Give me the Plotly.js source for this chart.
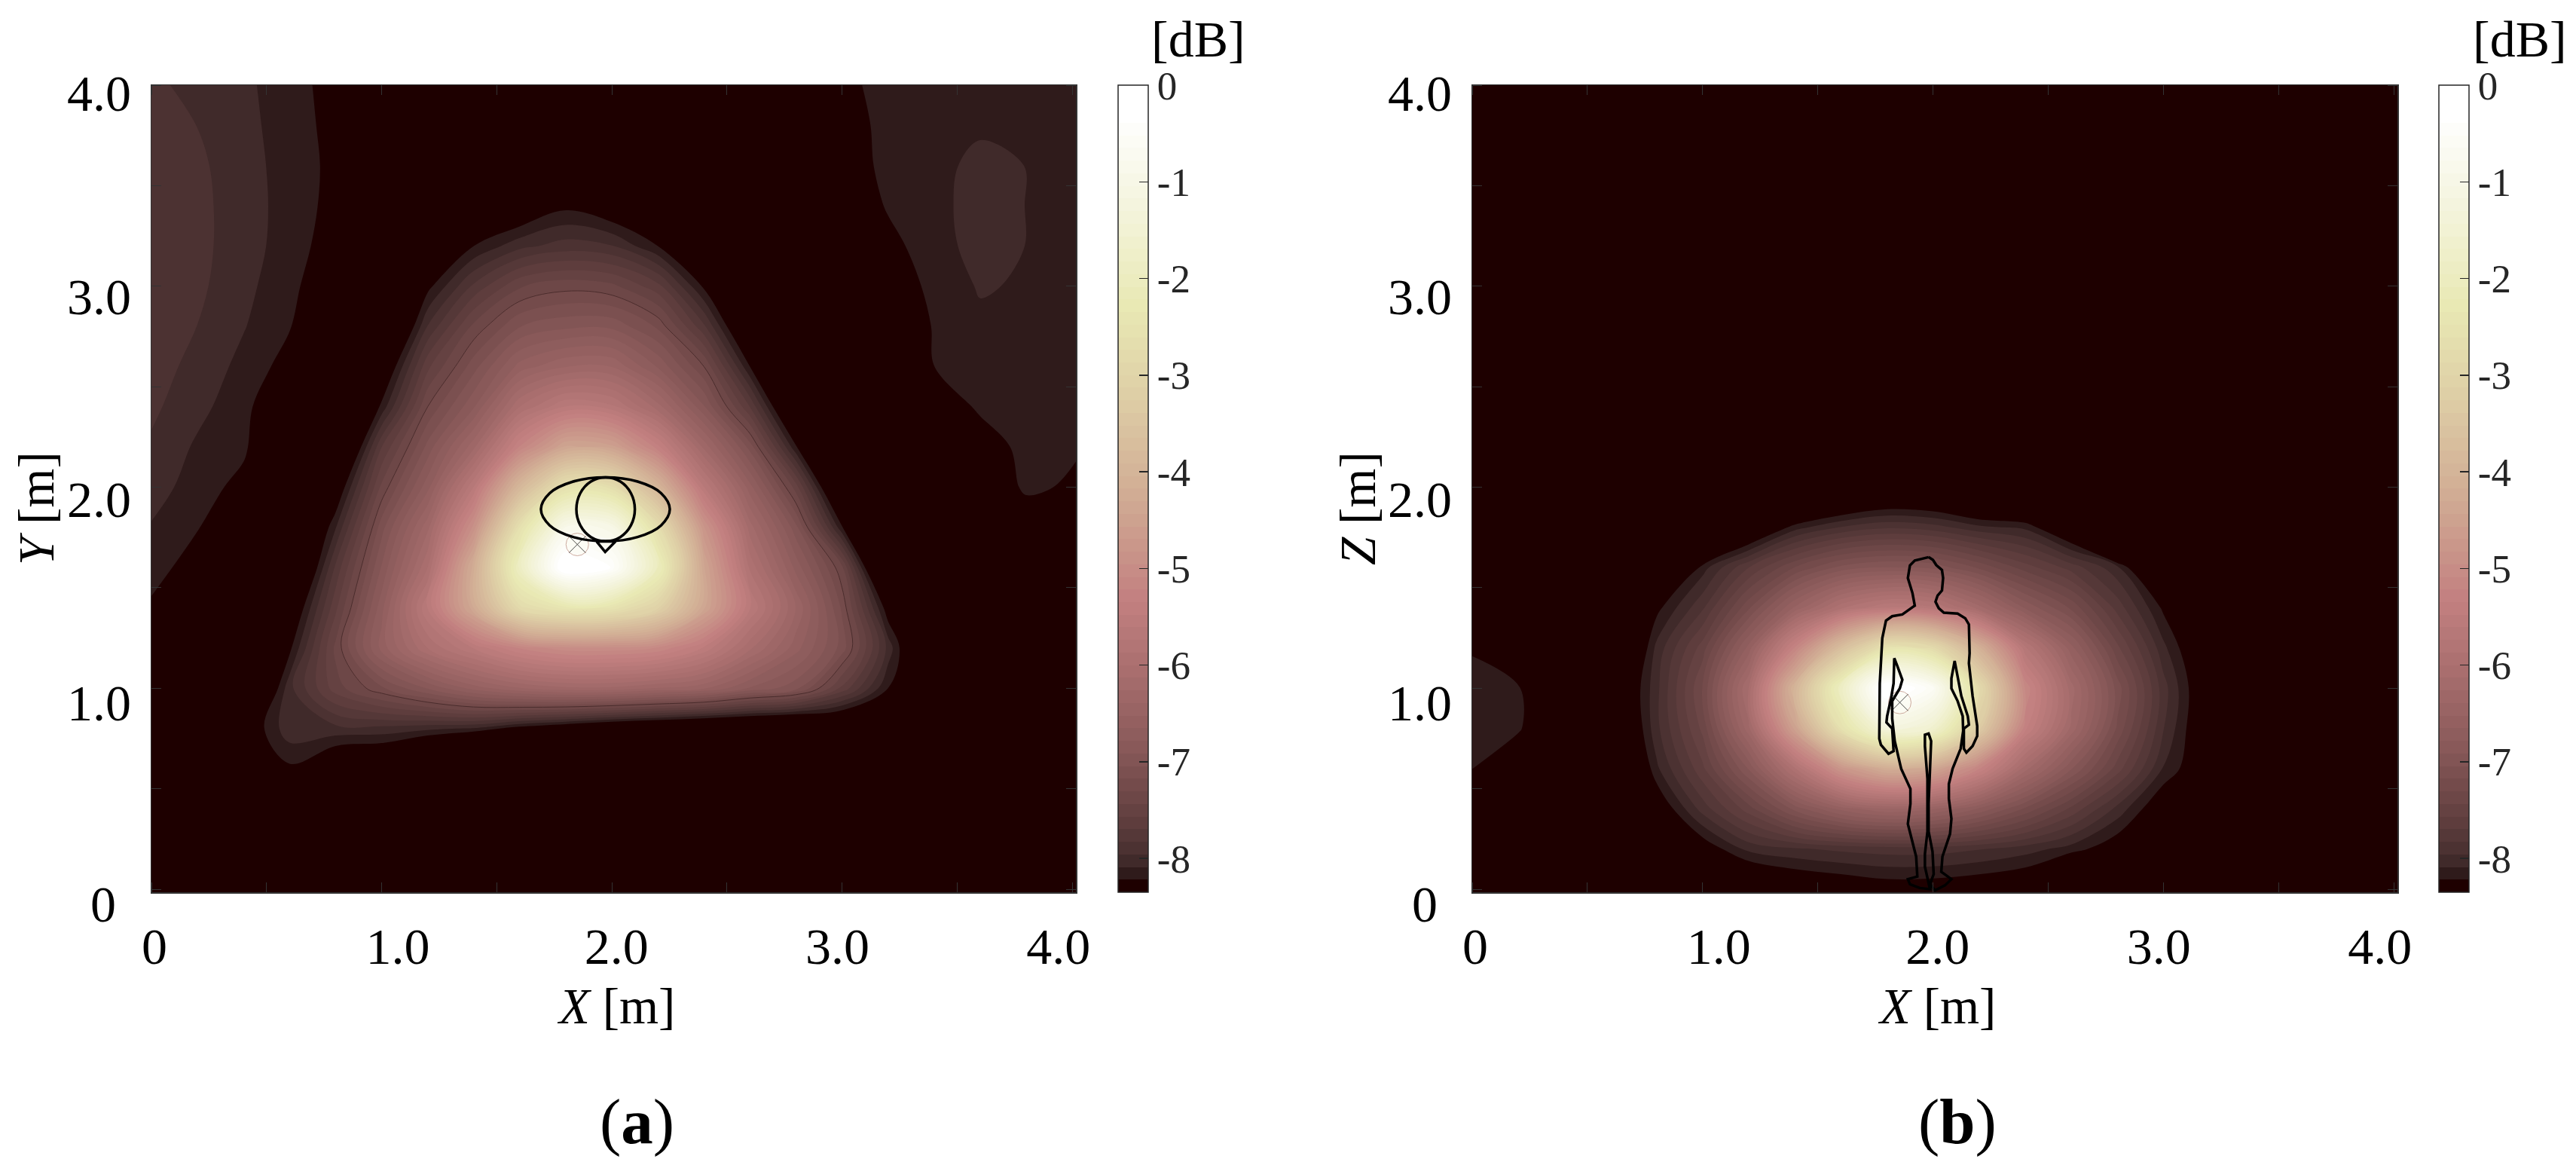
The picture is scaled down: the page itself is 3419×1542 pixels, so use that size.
<!DOCTYPE html>
<html>
<head>
<meta charset="utf-8">
<script src="https://cdn.plot.ly/plotly-3.0.1.min.js"></script>
<style>body{margin:0;background:#fff}</style>
</head>
<body>
<div id="chart" style="width:3419px;height:1542px"></div>
<script>
// grid of the two dB maps, metres
var gridX = [0,0.2,0.4,0.6,0.8,1.0,1.2,1.4,1.6,1.8,2.0,2.2,2.4,2.6,2.8,3.0,3.2,3.4,3.6,3.8,4.02];
var gridY = [-0.02,0.2,0.4,0.6,0.8,1.0,1.2,1.4,1.6,1.8,2.0,2.2,2.4,2.6,2.8,3.0,3.2,3.4,3.6,3.8,4.0];

// (a) X-Y plane, rows from the bottom up
var zTop = [
[-12,-12,-12,-12,-12,-12,-12,-12,-12,-12,-12,-12,-12,-12,-12,-12,-12,-12,-12,-12,-12],
[-12,-12,-12,-12,-12,-12,-12,-12,-12,-12,-12,-12,-12,-12,-12,-12,-12,-12,-12,-12,-12],
[-11,-11,-11,-10,-11,-11,-11,-11,-11,-11,-11,-11,-11,-11,-11,-11,-11,-11,-11,-11,-11],
[-11,-11,-9,-8.25,-8.5,-8.6,-9.0,-9.6,-10,-10.5,-10.5,-10.5,-10.5,-10.5,-10.5,-11,-11,-11,-11,-11,-11],
[-10.5,-10.5,-8.4,-8.0,-8.0,-8.0,-8.05,-8.1,-8.3,-8.45,-8.6,-8.7,-8.8,-8.85,-8.88,-8.73,-9,-11,-11,-11,-11],
[-9.0,-9.5,-8.88,-8.0,-7.5,-7.2,-6.9,-6.6,-6.4,-6.3,-6.3,-6.4,-6.5,-6.8,-7.0,-7.6,-8.22,-9.5,-11,-11,-11],
[-8.6,-9.2,-9,-8.26,-7.4,-6.6,-6,-5.6,-5.2,-5,-5,-5.1,-5.5,-6.1,-6.6,-7.1,-8,-8.88,-11,-11,-11],
[-8.24,-8.8,-9,-8.49,-7.6,-6.7,-5.6,-4.3,-2.8,-2.4,-2.5,-3.1,-4.4,-5.6,-6.4,-7.2,-8.33,-10,-11,-11,-11],
[-8.17,-8.28,-9,-8.85,-7.8,-6.9,-6,-4.2,-1.9,-0.05,-0.4,-2,-4.4,-5.9,-6.7,-7.4,-9.04,-10,-10,-10,-10],
[-8.10,-8.21,-8.5,-8.9,-8.1,-7.1,-6.3,-4.9,-2.6,-0.9,-1.0,-2.7,-4.8,-6.2,-7,-8.2,-9.5,-10,-9,-8.5,-8.8],
[-8.03,-8.15,-8.27,-8.7,-8.42,-7.4,-6.7,-5.6,-3.9,-2.6,-2.7,-4,-5.6,-6.6,-7.5,-8.81,-9.5,-9,-8.6,-8.15,-8.28],
[-7.98,-8.11,-8.19,-8.5,-8.86,-7.7,-7,-6.3,-5.2,-4.4,-4.5,-5.3,-6.3,-7.1,-8.2,-9,-9.2,-8.7,-8.35,-8.15,-8.19],
[-7.93,-8.05,-8.17,-8.42,-8.9,-8.18,-7.3,-6.8,-6,-5.6,-5.7,-6.2,-6.9,-7.7,-8.74,-9.5,-8.9,-8.4,-8.18,-8.16,-8.17],
[-7.90,-8.0,-8.13,-8.28,-8.6,-8.49,-7.6,-7.1,-6.6,-6.4,-6.4,-6.8,-7.3,-8.22,-9.1,-9.3,-8.7,-8.22,-8.14,-8.15,-8.16],
[-7.88,-7.96,-8.08,-8.21,-8.45,-8.85,-7.95,-7.4,-7.05,-6.95,-6.95,-7.2,-7.8,-8.64,-9.5,-9,-8.5,-8.2,-8.11,-8.12,-8.14],
[-7.87,-7.93,-8.05,-8.18,-8.35,-9,-8.27,-7.8,-7.45,-7.35,-7.4,-7.65,-8.25,-8.8,-9.2,-8.7,-8.4,-8.15,-8.08,-8.10,-8.13],
[-7.87,-7.92,-8.03,-8.15,-8.3,-8.8,-8.44,-8.22,-8.0,-7.9,-7.95,-8.22,-8.49,-9.2,-9,-8.5,-8.28,-8.12,-8.06,-8.09,-8.12],
[-7.88,-7.92,-8.03,-8.14,-8.27,-8.6,-9,-8.9,-8.45,-8.26,-8.4,-8.8,-9,-9.1,-8.8,-8.4,-8.2,-8.11,-8.06,-8.09,-8.12],
[-7.90,-7.93,-8.04,-8.14,-8.26,-8.5,-8.8,-9,-9.2,-9.2,-9.2,-9.2,-9.1,-9,-8.7,-8.35,-8.16,-8.11,-8.07,-8.09,-8.12],
[-7.92,-7.96,-8.05,-8.15,-8.27,-8.5,-8.8,-9,-9,-9,-9,-9,-9,-8.9,-8.6,-8.3,-8.17,-8.13,-8.10,-8.11,-8.13],
[-7.93,-8.0,-8.06,-8.16,-8.28,-8.5,-8.8,-9,-9,-9,-9,-9,-9,-8.9,-8.6,-8.25,-8.18,-8.15,-8.13,-8.13,-8.14]
];

// (b) X-Z plane, rows from the bottom up
var zSide = [
[-11,-11,-11,-11,-10,-9,-8.68,-8.51,-8.44,-8.37,-8.38,-8.42,-8.48,-9,-10,-11,-11,-11,-11,-11,-11],
[-11,-11,-11,-10.5,-9,-8.35,-8.05,-7.98,-7.93,-7.9,-7.9,-7.95,-8.03,-8.15,-8.35,-9.5,-11,-11,-11,-11,-11],
[-10,-10,-10,-9.2,-8.4,-7.9,-7.5,-7,-6.6,-6.4,-6.5,-6.8,-7.2,-7.6,-8,-8.4,-10,-11,-11,-11,-11],
[-8.2,-8.6,-9,-8.92,-8.12,-7.6,-6.9,-5.9,-4.8,-4.2,-4.4,-5.2,-6.2,-6.9,-7.5,-8.1,-8.44,-11,-11,-11,-11],
[-8.1,-8.17,-8.8,-8.73,-8,-7.4,-6.3,-4.5,-2.6,-1.3,-1.6,-3.3,-5.3,-6.3,-7.2,-7.95,-8.49,-11,-11,-11,-11],
[-8.1,-8.18,-8.8,-8.63,-8,-7.3,-6.1,-4,-1.9,-0.05,-0.6,-2.8,-5.1,-6.2,-7.1,-7.9,-8.48,-11,-11,-11,-11],
[-8.25,-9,-9.3,-8.9,-8.05,-7.5,-6.6,-5.2,-3.7,-2.5,-2.8,-4.1,-5.7,-6.6,-7.4,-8.05,-8.54,-11,-11,-11,-11],
[-9.5,-10,-10,-9,-8.27,-7.85,-7.2,-6.5,-5.9,-5.6,-5.7,-6.2,-6.8,-7.2,-7.75,-8.25,-9,-11,-11,-11,-11],
[-10,-10.5,-10.5,-10,-9,-8.15,-7.7,-7.3,-7,-6.9,-6.95,-7.2,-7.5,-7.75,-8.05,-8.78,-11,-11,-11,-11,-11],
[-11,-11,-11,-11,-10,-9.3,-8.6,-8.15,-7.95,-7.85,-7.9,-8.05,-8.12,-8.52,-9.5,-11,-11,-11,-11,-11,-11],
[-11,-11,-11,-11,-11,-11,-10,-9.2,-8.85,-8.67,-8.7,-8.9,-9,-10,-11,-11,-11,-11,-11,-11,-11],
[-12,-12,-12,-12,-12,-12,-11,-11,-10,-10,-10,-10,-11,-11,-12,-12,-12,-12,-12,-12,-12],
[-12,-12,-12,-12,-12,-12,-12,-12,-12,-12,-12,-12,-12,-12,-12,-12,-12,-12,-12,-12,-12],
[-12,-12,-12,-12,-12,-12,-12,-12,-12,-12,-12,-12,-12,-12,-12,-12,-12,-12,-12,-12,-12],
[-12,-12,-12,-12,-12,-12,-12,-12,-12,-12,-12,-12,-12,-12,-12,-12,-12,-12,-12,-12,-12],
[-12,-12,-12,-12,-12,-12,-12,-12,-12,-12,-12,-12,-12,-12,-12,-12,-12,-12,-12,-12,-12],
[-12,-12,-12,-12,-12,-12,-12,-12,-12,-12,-12,-12,-12,-12,-12,-12,-12,-12,-12,-12,-12],
[-12,-12,-12,-12,-12,-12,-12,-12,-12,-12,-12,-12,-12,-12,-12,-12,-12,-12,-12,-12,-12],
[-12,-12,-12,-12,-12,-12,-12,-12,-12,-12,-12,-12,-12,-12,-12,-12,-12,-12,-12,-12,-12],
[-12,-12,-12,-12,-12,-12,-12,-12,-12,-12,-12,-12,-12,-12,-12,-12,-12,-12,-12,-12,-12],
[-12,-12,-12,-12,-12,-12,-12,-12,-12,-12,-12,-12,-12,-12,-12,-12,-12,-12,-12,-12,-12]
];

// outlines drawn on top of the maps
var ellipseX = [2.252,2.214,2.112,1.972,1.832,1.730,1.692,1.730,1.832,1.972,2.112,2.214,2.252];
var ellipseY = [1.89,1.97,2.028,2.049,2.028,1.97,1.89,1.81,1.752,1.731,1.752,1.81,1.89];
var circleX = [2.10,2.083,2.037,1.973,1.909,1.863,1.846,1.863,1.909,1.973,2.037,2.083,2.10];
var circleY = [1.89,1.97,2.028,2.049,2.028,1.97,1.89,1.81,1.752,1.731,1.752,1.81,1.89];
var noseX = [1.934,1.971,2.016,1.934];
var noseY = [1.73,1.678,1.73,1.73];
var bodyX = [1.981,2.000,2.014,2.039,2.044,2.039,2.020,2.011,2.025,2.047,2.107,2.140,2.156,2.159,2.156,2.172,2.192,2.192,2.172,2.145,2.134,2.134,2.156,2.151,2.123,2.107,2.094,2.080,2.080,2.107,2.129,2.131,2.120,2.085,2.069,2.069,2.080,2.074,2.041,2.036,2.080,2.052,2.009,1.987,2.003,1.998,1.981,1.981,1.992,1.981,1.965,1.965,1.976,1.976,1.965,1.965,1.981,1.987,1.943,1.900,1.891,1.932,1.927,1.900,1.891,1.902,1.902,1.862,1.834,1.823,1.823,1.856,1.867,1.845,1.832,1.829,1.818,1.801,1.798,1.823,1.829,1.807,1.774,1.767,1.769,1.780,1.796,1.823,1.867,1.921,1.911,1.891,1.900,1.921,1.981];
var bodyY = [1.652,1.638,1.613,1.588,1.548,1.486,1.461,1.430,1.398,1.376,1.371,1.348,1.317,1.174,1.124,0.961,0.812,0.762,0.712,0.680,0.699,0.799,0.818,0.861,0.961,1.049,1.136,1.049,0.999,0.936,0.861,0.787,0.699,0.599,0.524,0.450,0.350,0.275,0.162,0.087,0.050,0.019,-0.006,0.025,0.075,0.187,0.287,0.425,0.737,0.774,0.768,0.712,0.549,0.287,0.175,0.112,0.025,0.000,0.006,0.025,0.050,0.063,0.162,0.275,0.325,0.425,0.499,0.599,0.737,0.849,0.936,0.999,1.042,1.111,1.149,1.024,0.949,0.861,0.830,0.799,0.687,0.674,0.718,0.749,1.024,1.249,1.336,1.358,1.367,1.411,1.473,1.548,1.611,1.635,1.652];
var sensorTop = [1.85, 1.715];
var sensorSide = [1.856, 0.929];

// tick labels sit off their tick marks in the picture
var tickTextX = ['0','1.0','2.0','3.0','4.0'];
var tickAtX = [0.013,1.07,2.02,2.98,3.94];
var tickTextY = ['1.0','2.0','3.0','4.0'];
var tickAtY = [0.93,1.94,2.95,3.96];
var tickMarks = [0,0.5,1,1.5,2,2.5,3,3.5,4];
var barTicks = [0,-1,-2,-3,-4,-5,-6,-7,-8];
var barText = ['0','-1','-2','-3','-4','-5','-6','-7','-8'];

// MATLAB pink; contour fills take the colour at a band's lower edge
var pinkStops = [[0,'#1e0000'],[0.004,'#1e0000'],[0.0156,'#2e1a1a'],[0.031,'#3f2929'],[0.047,'#4b3131'],[0.082,'#5f3e3e'],[0.18,'#8a5a5a'],[0.272,'#a86e6e'],[0.367,'#c38080'],[0.492,'#d0aa93'],[0.617,'#ddcca5'],[0.742,'#e9e9b4'],[0.867,'#f4f4dd'],[0.985,'#ffffff'],[1,'#ffffff']];

var W = 3419, H = 1542;
var serif = 'Liberation Serif';

function mapTrace(z, xa, ya, barLeft) {
  return {
    type: 'contour', x: gridX, y: gridY, z: z, xaxis: xa, yaxis: ya,
    autocontour: false,
    contours: {coloring: 'fill', showlines: false, start: -8.2195, end: -0.1305, size: 0.1305},
    line: {width: 0, smoothing: 1},
    colorscale: pinkStops, zmin: -8.35, zmax: 0, hoverinfo: 'skip',
    colorbar: {
      x: barLeft / W, xanchor: 'left', y: 1 - 113 / H, yanchor: 'top',
      len: 1071, lenmode: 'pixels', thickness: 40, thicknessmode: 'pixels',
      xpad: 0, ypad: 0, outlinecolor: '#262626', outlinewidth: 1.5,
      tickmode: 'array', tickvals: barTicks, ticktext: barText,
      ticks: 'inside', ticklen: 12, tickcolor: '#262626', tickwidth: 1.5,
      tickfont: {family: serif, size: 53, color: '#262626'}
    }
  };
}

// the thin dark contour that shows in map (a)
function hairline(z, xa, ya) {
  return {
    type: 'contour', x: gridX, y: gridY, z: z, xaxis: xa, yaxis: ya, showscale: false,
    autocontour: false, contours: {coloring: 'none', showlines: true, start: -7.3, end: -7.3, size: 1},
    line: {color: '#4a2c2c', width: 1, smoothing: 1}, hoverinfo: 'skip'
  };
}

function lineTrace(x, y, xa, ya, shape) {
  return {type: 'scatter', mode: 'lines', x: x, y: y, xaxis: xa, yaxis: ya, showlegend: false,
    hoverinfo: 'skip', line: {color: '#000', width: 3.5, shape: shape || 'linear'}};
}

function sensorTrace(p, xa, ya) {
  return {type: 'scatter', mode: 'markers', x: [p[0], p[0]], y: [p[1], p[1]], xaxis: xa, yaxis: ya,
    showlegend: false, hoverinfo: 'skip',
    marker: {symbol: ['circle', 'x-thin'], size: [30, 22], color: '#fcfcf4',
      line: {color: ['#b9897a', '#000'], width: 1}}};
}

function xAxis(left, right, anchor) {
  return {
    domain: [left / W, right / W], range: [0, 4.016], anchor: anchor,
    showline: true, linecolor: '#333', linewidth: 1.5, mirror: 'ticks', showgrid: false, zeroline: false,
    tickmode: 'array', tickvals: tickAtX, ticktext: tickTextX, ticks: '', ticklabelstandoff: 12,
    tickfont: {family: serif, size: 68, color: '#000'},
    minor: {tickmode: 'array', tickvals: tickMarks, ticks: 'inside', ticklen: 13, tickcolor: '#333', tickwidth: 1, showgrid: false}
  };
}

function yAxis(anchor) {
  return {
    domain: [1 - 1184 / H, 1 - 113 / H], range: [-0.015, 4], anchor: anchor,
    showline: true, linecolor: '#333', linewidth: 1.5, mirror: 'ticks', showgrid: false, zeroline: false,
    tickmode: 'array', tickvals: tickAtY, ticktext: tickTextY, ticks: '', ticklabelstandoff: 12,
    tickfont: {family: serif, size: 68, color: '#000'},
    minor: {tickmode: 'array', tickvals: tickMarks, ticks: 'inside', ticklen: 13, tickcolor: '#333', tickwidth: 1, showgrid: false}
  };
}

function label(text, px, py, size, angle) {
  return {text: text, xref: 'paper', yref: 'paper', x: px / W, y: 1 - py / H, xanchor: 'center', yanchor: 'middle',
    showarrow: false, textangle: angle || 0, font: {family: serif, size: size, color: '#000'}};
}

var data = [
  mapTrace(zTop, 'x', 'y', 1484),
  hairline(zTop, 'x', 'y'),
  sensorTrace(sensorTop, 'x', 'y'),
  lineTrace(ellipseX, ellipseY, 'x', 'y', 'spline'),
  lineTrace(circleX, circleY, 'x', 'y', 'spline'),
  lineTrace(noseX, noseY, 'x', 'y'),
  mapTrace(zSide, 'x2', 'y2', 3237),
  sensorTrace(sensorSide, 'x2', 'y2'),
  lineTrace(bodyX, bodyY, 'x2', 'y2')
];

var layout = {
  width: W, height: H, showlegend: false,
  paper_bgcolor: '#fff', plot_bgcolor: '#1e0000',
  margin: {l: 0, r: 0, t: 0, b: 0, pad: 0, autoexpand: false},
  xaxis: xAxis(201, 1428, 'y'),
  yaxis: yAxis('x'),
  xaxis2: xAxis(1954, 3182, 'y2'),
  yaxis2: yAxis('x2'),
  annotations: [
    label('0', 137, 1200, 68),
    label('0', 1891, 1200, 68),
    label('<i>X</i> [m]', 817, 1335, 67),
    label('<i>X</i> [m]', 2570, 1335, 67),
    label('<i>Y</i> [m]', 48, 675, 67, -90),
    label('<i>Z</i> [m]', 1802, 675, 67, -90),
    label('[dB]', 1590, 52, 68),
    label('[dB]', 3344, 52, 68),
    label('(<b>a</b>)', 845, 1488, 85),
    label('(<b>b</b>)', 2598, 1488, 85)
  ]
};

Plotly.newPlot('chart', data, layout, {displayModeBar: false, staticPlot: true});
</script>
</body>
</html>
